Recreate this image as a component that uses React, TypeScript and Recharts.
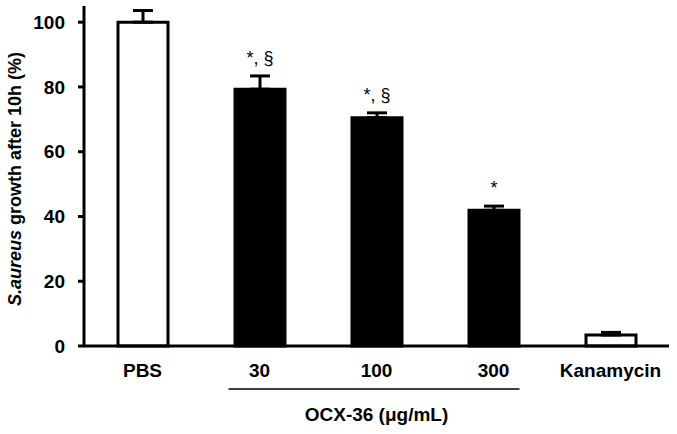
import React from 'react';
import { BarChart, Bar, XAxis, YAxis, ErrorBar, Cell, LabelList } from 'recharts';

const categories = ['PBS', '30', '100', '300', 'Kanamycin'];
const growth = [100, 79.3, 70.5, 41.9, 3.4];
const errorUp = [3.6, 4.1, 1.5, 1.3, 0.8];
const significance = ['', '*, §', '*, §', '*', ''];
const groups = ['control', 'OCX-36', 'OCX-36', 'OCX-36', 'control'];
const yTicks = [0, 20, 40, 60, 80, 100];
const groupLabel = 'OCX-36 (μg/mL)';

const data = categories.map((name, i) => ({
  name,
  growth: growth[i],
  err: [0, errorUp[i]],
  sig: significance[i],
  group: groups[i],
}));

const FONT = '"Liberation Sans", Arial, sans-serif';

const XTick = (props: any) => {
  const { x, y, payload, index } = props;
  return (
    <g>
      <text x={x} y={y + 23} textAnchor="middle" fontFamily={FONT} fontWeight="bold" fontSize={19} fill="#000">
        {payload.value}
      </text>
      {index === 2 && (
        <g>
          <line x1={x - 148} x2={x + 143} y1={y + 35} y2={y + 35} stroke="#000" strokeWidth={1.5} />
          <text x={x} y={y + 67} textAnchor="middle" fontFamily={FONT} fontWeight="bold" fontSize={19} fill="#000">
            {groupLabel}
          </text>
        </g>
      )}
    </g>
  );
};

const SigLabel = (props: any) => {
  const { x, y, width, height, value, index } = props;
  if (!value) return null;
  const v = growth[index];
  const pxPerUnit = height / v;
  const errTop = y - errorUp[index] * pxPerUnit;
  return (
    <text x={x + width / 2} y={errTop - 12} textAnchor="middle" fontFamily={FONT} fontSize={18} fill="#000">
      {value}
    </text>
  );
};

export default function App() {
  return (
    <div style={{ position: 'absolute', left: 0, top: 0, background: '#fff' }}>
      <BarChart width={677} height={434} data={data} margin={{ top: 6, right: 8, bottom: 58, left: 24 }} barSize={50}>
        <XAxis
          dataKey="name"
          axisLine={{ stroke: '#000', strokeWidth: 3 }}
          tickLine={false}
          tick={<XTick />}
          interval={0}
        />
        <YAxis
          width={60}
          domain={[0, 105]}
          ticks={yTicks}
          axisLine={{ stroke: '#000', strokeWidth: 3 }}
          tickLine={{ stroke: '#000', strokeWidth: 3 }}
          tickSize={6}
          tickMargin={13}
          tick={{ fontFamily: FONT, fontWeight: 'bold', fontSize: 19, fill: '#000' }}
        />
        <Bar dataKey="growth" isAnimationActive={false} stroke="#000" strokeWidth={3}>
          {data.map((d, i) => (
            <Cell key={i} fill={d.group === 'control' ? '#fff' : '#000'} />
          ))}
          <ErrorBar dataKey="err" direction="y" width={10} stroke="#000" strokeWidth={3} />
          <LabelList dataKey="sig" content={<SigLabel />} />
        </Bar>
      </BarChart>
      <svg width={40} height={434} style={{ position: 'absolute', left: 0, top: 0 }}>
        <text
          transform="translate(21,179) rotate(-90)"
          textAnchor="middle"
          fontFamily={FONT}
          fontWeight="bold"
          fontSize={18}
          fill="#000"
        >
          <tspan fontStyle="italic">S.aureus</tspan>
          <tspan> growth after 10h (%)</tspan>
        </text>
      </svg>
    </div>
  );
}
